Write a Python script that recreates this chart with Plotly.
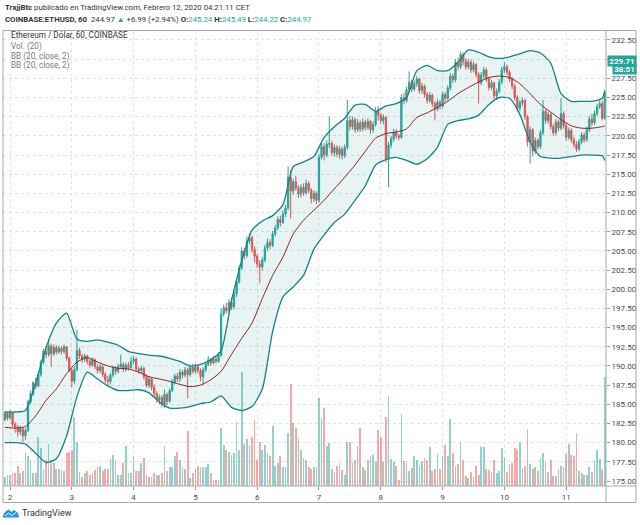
import pandas as pd
import plotly.graph_objects as go

# ---------------- DATA (hourly ETH/USD candles, Coinbase) ----------------
start_time = "2020-02-01 22:00"

opens = [
    183.0,183.8,183.2,183.9,182.4,182.0,181.4,181.8,
    180.9,181.6,185.3,186.4,187.8,187.4,188.9,190.5,191.9,191.5,192.6,191.6,192.4,191.8,192.3,191.9,192.5,191.0,189.4,188.0,189.5,192.0,191.3,190.9,
    191.3,190.6,190.1,190.8,189.9,189.4,189.9,188.9,188.2,188.0,188.8,189.7,189.3,189.9,190.2,189.6,190.1,189.8,190.6,190.9,189.6,189.4,189.7,188.6,
    187.5,188.3,187.2,186.4,185.6,185.9,185.0,186.3,185.4,186.8,187.9,188.7,188.3,189.2,188.8,189.5,188.9,189.8,189.3,189.9,189.4,188.6,189.5,190.2,
    190.8,190.4,190.9,190.6,191.4,196.8,197.6,197.2,198.3,197.7,199.4,201.0,202.8,205.0,204.4,206.3,206.7,205.2,204.3,203.3,202.9,203.8,205.4,206.1,
    205.7,207.2,208.0,209.1,208.7,209.8,210.6,214.6,212.8,214.0,213.2,212.4,213.3,212.6,213.8,212.9,211.8,212.5,211.6,217.2,218.6,217.5,218.9,219.0,
    217.8,218.5,217.6,218.3,217.4,218.5,222.0,221.2,222.1,220.8,221.7,220.9,221.8,221.1,221.9,220.8,221.5,223.2,
    222.7,222.0,222.4,217.0,218.8,219.6,220.5,220.0,219.8,225.0,224.6,226.0,227.0,226.1,226.8,227.4,225.9,226.5,225.4,224.6,225.3,224.2,223.5,224.4,
    223.9,225.4,224.9,226.2,227.8,227.3,229.6,229.0,230.6,229.7,229.0,229.6,228.6,229.3,228.0,226.9,227.9,228.6,227.4,226.3,226.9,225.2,225.8,227.0,
    228.6,229.0,228.3,227.4,226.5,225.0,223.6,224.3,224.6,222.5,219.2,220.8,218.0,219.4,218.6,220.4,223.2,222.0,222.8,221.2,220.4,221.8,221.0,222.9,
    221.3,219.8,220.7,219.5,218.9,218.3,219.2,220.1,219.5,220.8,222.2,221.7,222.9,223.8,224.2,222.3,
]
highs = [
    184.1,184.0,184.3,184.0,182.7,182.3,182.2,182.0,
    181.9,185.6,186.8,188.0,188.5,189.3,190.8,192.2,192.6,193.5,192.9,192.8,192.7,192.6,192.6,192.8,192.6,191.2,189.8,190.0,194.7,192.4,191.6,191.6,
    191.5,190.9,191.1,191.0,190.2,190.3,190.1,189.2,188.7,189.1,190.0,190.0,190.3,191.5,190.5,190.4,190.5,191.2,191.3,191.1,189.9,190.0,189.9,188.9,
    188.6,188.5,187.6,186.7,186.3,186.2,186.9,186.5,187.1,188.3,189.0,189.1,189.6,189.5,189.9,189.8,190.2,190.3,190.3,190.2,189.7,189.8,190.6,191.3,
    191.1,191.3,191.2,191.8,197.5,198.0,198.2,198.7,198.9,199.8,201.4,203.2,205.5,205.4,206.9,207.3,207.0,205.6,204.6,203.8,204.2,205.8,206.6,206.5,
    207.6,208.4,209.5,209.6,210.3,211.0,216.0,215.5,214.4,214.8,213.6,213.7,213.8,214.3,214.1,213.2,212.9,212.8,217.6,219.2,219.1,219.4,222.5,219.3,
    218.9,218.8,218.7,218.6,218.9,224.7,222.6,222.5,222.4,222.2,222.0,222.3,222.1,222.3,222.1,221.9,223.8,223.9,
    223.0,222.8,222.6,219.2,220.0,220.9,220.9,220.3,225.4,225.6,226.4,228.4,227.3,227.2,227.8,227.6,226.9,226.7,225.7,225.7,225.5,224.5,224.8,224.7,
    225.8,225.7,226.6,228.2,228.1,230.0,230.2,231.0,230.9,230.1,230.0,229.9,229.7,229.5,228.3,228.3,229.0,228.9,227.7,227.3,227.1,226.2,227.4,229.0,
    229.6,229.3,228.6,227.7,226.8,225.3,224.7,225.0,224.8,222.7,221.2,221.0,219.8,219.7,220.8,224.7,223.5,223.2,223.0,221.5,222.2,222.1,224.9,223.2,
    221.6,221.1,221.0,219.9,219.3,219.6,220.5,220.4,221.2,222.6,222.9,223.3,224.2,224.6,224.5,226.0,
]
lows = [
    182.8,182.9,183.0,182.0,181.3,180.8,181.0,180.1,
    180.4,181.4,185.0,186.1,187.0,187.2,188.6,190.2,191.0,191.2,189.9,191.3,191.5,191.6,191.5,191.6,190.7,189.2,187.2,187.6,189.3,190.9,190.4,190.5,
    190.2,189.8,189.9,189.6,189.0,189.1,188.5,187.8,187.3,187.6,188.5,188.9,189.0,189.6,189.2,189.3,189.4,189.5,190.2,189.3,189.0,189.0,188.2,187.2,
    187.1,186.8,186.0,185.2,185.0,184.6,184.5,184.9,185.2,186.6,187.6,187.9,187.9,188.4,188.5,185.8,188.6,189.0,189.0,189.0,188.0,187.5,189.2,190.0,
    190.0,190.2,190.3,190.4,191.2,196.4,196.8,196.9,197.3,197.4,199.0,200.7,202.5,203.9,204.1,205.9,204.8,203.5,202.8,200.8,202.5,203.5,205.0,205.2,
    205.5,206.9,207.7,208.2,208.5,209.4,210.3,209.2,212.3,212.9,211.9,212.0,212.2,212.3,212.5,211.2,211.4,211.1,211.3,216.9,216.8,217.2,218.4,217.4,
    217.3,217.2,217.0,216.9,217.1,218.2,220.7,220.8,220.4,220.5,220.5,220.6,220.7,220.8,220.3,220.4,221.2,222.0,
    221.6,221.5,216.5,213.3,218.4,219.2,219.6,219.4,219.6,224.1,224.3,225.7,225.7,225.8,226.4,225.5,225.5,225.0,224.2,224.3,223.8,222.0,223.2,223.4,
    223.6,224.4,224.6,225.9,226.9,227.0,228.6,228.7,229.2,228.6,228.7,228.2,228.3,227.6,224.2,226.6,227.5,227.0,225.9,226.0,224.8,224.7,225.5,226.7,
    228.2,227.9,227.0,226.1,224.6,223.2,223.2,223.9,222.1,218.6,216.4,217.3,217.6,218.2,218.3,220.1,221.6,221.6,220.8,220.0,220.1,220.6,220.7,220.9,
    219.4,219.5,219.1,218.5,217.9,218.0,218.9,219.1,219.2,220.5,221.3,221.4,222.6,223.5,222.0,222.1,
]
closes = [
    183.8,183.2,183.9,182.4,182.0,181.4,181.8,180.9,
    181.6,185.3,186.4,187.8,187.4,188.9,190.5,191.9,191.5,192.6,191.6,192.4,191.8,192.3,191.9,192.5,191.0,189.4,188.0,189.5,192.0,191.3,190.9,191.3,
    190.6,190.1,190.8,189.9,189.4,189.9,188.9,188.2,188.0,188.8,189.7,189.3,189.9,190.2,189.6,190.1,189.8,190.6,190.9,189.6,189.4,189.7,188.6,187.5,
    188.3,187.2,186.4,185.6,185.9,185.0,186.3,185.4,186.8,187.9,188.7,188.3,189.2,188.8,189.5,188.9,189.8,189.3,189.9,189.4,188.6,189.5,190.2,190.8,
    190.4,190.9,190.6,191.4,196.8,197.6,197.2,198.3,197.7,199.4,201.0,202.8,205.0,204.4,206.3,206.7,205.2,204.3,203.3,202.9,203.8,205.4,206.1,205.7,
    207.2,208.0,209.1,208.7,209.8,210.6,214.6,212.8,214.0,213.2,212.4,213.3,212.6,213.8,212.9,211.8,212.5,211.6,217.2,218.6,217.5,218.9,219.0,217.8,
    218.5,217.6,218.3,217.4,218.5,222.0,221.2,222.1,220.8,221.7,220.9,221.8,221.1,221.9,220.8,221.5,223.2,222.7,
    222.0,222.4,217.0,218.8,219.6,220.5,220.0,219.8,225.0,224.6,226.0,227.0,226.1,226.8,227.4,225.9,226.5,225.4,224.6,225.3,224.2,223.5,224.4,223.9,
    225.4,224.9,226.2,227.8,227.3,229.6,229.0,230.6,229.7,229.0,229.6,228.6,229.3,228.0,226.9,227.9,228.6,227.4,226.3,226.9,225.2,225.8,227.0,228.6,
    229.0,228.3,227.4,226.5,225.0,223.6,224.3,224.6,222.5,219.2,220.8,218.0,219.4,218.6,220.4,223.2,222.0,222.8,221.2,220.4,221.8,221.0,222.9,221.3,
    219.8,220.7,219.5,218.9,218.3,219.2,220.1,219.5,220.8,222.2,221.7,222.9,223.8,224.2,222.3,225.6,
]
volumes = [
    0.8,1.0,1.0,1.1,1.1,1.8,1.1,1.3,
    2.9,2.6,2.3,1.1,1.1,4.3,3.3,1.4,2.3,3.7,2.3,2.0,1.5,1.5,1.4,1.3,2.9,3.0,3.2,6.1,3.9,1.2,0.8,1.1,
    1.3,1.0,1.1,1.4,1.7,1.8,1.3,1.5,1.5,2.4,2.7,2.3,1.0,1.0,2.0,3.5,1.1,1.1,2.6,1.3,1.3,2.0,2.5,1.0,
    0.8,0.8,1.1,1.0,1.0,1.1,3.5,1.3,1.7,1.7,2.6,3.0,2.3,1.7,1.5,4.8,0.7,1.1,1.5,1.8,1.7,1.7,1.7,1.9,
    1.1,0.5,0.5,0.5,5.1,3.6,3.2,3.0,2.7,2.9,5.6,3.2,10.0,3.7,4.1,3.5,4.3,5.8,2.3,3.9,3.2,3.6,2.9,2.6,
    5.3,1.8,2.0,2.6,1.7,1.7,4.7,9.0,5.5,5.1,4.1,3.2,2.5,2.3,1.7,1.5,1.7,1.7,7.7,6.0,6.9,3.5,3.8,1.5,
    1.2,1.8,2.0,1.4,1.0,3.9,3.9,2.0,2.3,3.5,5.1,1.7,1.4,2.3,2.6,2.7,2.1,4.9,
    4.3,2.1,6.1,7.9,2.4,2.1,1.8,0.5,6.3,2.2,2.0,1.3,1.6,2.6,2.3,1.8,2.2,2.5,2.3,3.4,1.3,1.5,2.9,1.5,
    2.6,3.6,2.6,5.9,2.9,1.8,1.9,3.9,2.3,0.9,0.7,1.2,0.8,1.8,1.0,3.4,3.4,1.5,1.4,1.2,2.3,1.1,1.3,3.3,
    2.5,1.2,1.9,2.0,3.3,3.2,3.9,1.6,1.8,5.0,1.9,1.5,1.7,1.3,2.5,2.9,2.1,1.2,2.3,0.9,0.9,1.5,1.8,1.7,
    2.8,3.7,2.7,2.6,4.7,1.3,1.1,1.0,1.0,1.7,1.2,2.3,3.2,2.4,1.5,9.6,
]

# Bollinger Bands (20, close, 2) every 4 hours (+ last bar)
bb_upper = [
    184.0,184.0,184.2,187.8,192.4,195.6,196.9,193.5,193.2,193.4,193.1,192.7,191.9,191.6,191.4,
    191.3,191.0,190.6,190.0,190.2,190.8,192.0,198.5,203.7,207.7,208.9,209.6,211.0,216.0,216.6,
    217.3,219.8,221.2,222.3,224.0,224.1,223.2,223.9,224.2,225.0,228.5,229.2,228.5,228.5,229.6,
    231.2,230.9,230.3,230.1,230.3,230.7,231.1,230.8,229.5,225.5,224.5,224.5,224.5,224.9,225.9,
]
bb_basis = [
    182.0,181.9,182.1,183.5,185.5,187.0,189.0,190.5,191.1,190.5,190.0,189.7,189.6,189.2,188.6,
    188.3,188.0,187.6,187.3,187.5,188.2,189.3,191.5,193.6,195.6,198.8,201.8,204.2,207.2,209.0,
    210.3,211.6,213.1,214.6,216.2,218.0,219.7,220.3,220.5,220.9,222.4,223.0,223.7,224.5,225.5,
    226.3,227.0,227.6,227.8,227.6,226.8,225.5,224.1,223.1,222.1,221.3,221.0,221.0,221.2,221.3,
]
bb_lower = [
    180.0,180.0,179.8,178.6,177.4,177.9,180.9,186.0,189.2,188.3,187.4,186.8,186.8,186.9,186.5,
    185.3,184.5,184.5,184.7,185.1,185.3,186.1,184.6,184.2,184.7,187.0,194.5,199.0,200.3,201.8,
    205.2,207.1,208.7,209.8,211.6,213.5,216.2,216.9,217.2,216.8,216.3,217.0,218.5,221.5,222.0,
    222.2,222.7,224.1,225.0,224.9,222.8,219.2,217.3,217.1,217.1,217.3,217.5,217.5,217.4,216.8,
]

# price axis ticks; the 230.00 label sits under the last-price tag in the reference
price_ticks = [175.0, 177.5, 180.0, 182.5, 185.0, 187.5, 190.0, 192.5, 195.0, 197.5, 200.0,
               202.5, 205.0, 207.5, 210.0, 212.5, 215.0, 217.5, 220.0, 222.5, 225.0, 227.5,
               230.0, 232.5]
price_tick_labels = ["175.00", "177.50", "180.00", "182.50", "185.00", "187.50", "190.00",
                     "192.50", "195.00", "197.50", "200.00", "202.50", "205.00", "207.50",
                     "210.00", "212.50", "215.00", "217.50", "220.00", "222.50", "225.00",
                     "227.50", "", "232.50"]

last_price_label = "229.71"
last_price_value = 229.71
countdown_label = "38:51"

# ---------------- STYLE ----------------
UP = "#26a69a"
DOWN = "#ef5350"
UP_VOL = "rgba(38,166,154,0.5)"
DOWN_VOL = "rgba(239,83,80,0.5)"
FONT = "Roboto, Liberation Sans, sans-serif"

times = pd.date_range(start_time, periods=len(closes), freq="h")
bb_times = list(pd.date_range(start_time, "2020-02-11 14:00", freq="4h")) + [times[-1]]

vol_colors = [UP_VOL if c >= o else DOWN_VOL for o, c in zip(opens, closes)]

# pixel -> paper helpers for layout decorations (plot area: x 3..606, y 31..486)
def X(px):
    return (px - 3) / 603.0

def Y(py):
    return (486 - py) / 455.0

fig = go.Figure()

fig.add_trace(go.Bar(
    x=times, y=volumes, marker=dict(color=vol_colors, line=dict(width=0)),
    width=0.68 * 3600 * 1000, yaxis="y", hoverinfo="skip",
))
fig.add_trace(go.Scatter(
    x=bb_times, y=bb_lower, mode="lines", yaxis="y2",
    line=dict(color="#138484", width=1.3, shape="spline", smoothing=0.6),
))
fig.add_trace(go.Scatter(
    x=bb_times, y=bb_upper, mode="lines", yaxis="y2", fill="tonexty",
    fillcolor="rgba(25,135,135,0.10)",
    line=dict(color="#138484", width=1.3, shape="spline", smoothing=0.6),
))
fig.add_trace(go.Scatter(
    x=bb_times, y=bb_basis, mode="lines", yaxis="y2",
    line=dict(color="#872323", width=1, shape="spline", smoothing=0.6),
))
fig.add_trace(go.Candlestick(
    x=times, open=opens, high=highs, low=lows, close=closes, yaxis="y2",
    increasing=dict(line=dict(color=UP, width=1), fillcolor=UP),
    decreasing=dict(line=dict(color=DOWN, width=1), fillcolor=DOWN),
    whiskerwidth=0,
))

grid = "#e3e3e3"
fig.update_layout(
    width=640, height=525,
    margin=dict(l=3, r=34, t=31, b=39),
    paper_bgcolor="white", plot_bgcolor="white",
    showlegend=False,
    font=dict(family=FONT, size=8, color="#4a4a4a"),
    xaxis=dict(
        type="date",
        range=["2020-02-01 21:17", "2020-02-11 15:28"],
        tick0="2020-02-02", dtick=86400000, tickformat="%-d",
        showgrid=True, gridcolor=grid, griddash="dot", gridwidth=1,
        ticks="outside", ticklen=3, tickcolor="#999",
        tickfont=dict(size=8, color="#4a4a4a"),
        rangeslider=dict(visible=False),
        showline=False, zeroline=False,
    ),
    yaxis=dict(range=[0, 40], visible=False, showgrid=False, fixedrange=True),
    yaxis2=dict(
        overlaying="y", side="right", anchor="x",
        range=[174.35, 233.67], tickmode="array",
        tickvals=price_ticks, ticktext=price_tick_labels,
        showgrid=True, gridcolor=grid, griddash="dot", gridwidth=1,
        ticks="outside", ticklen=3, tickcolor="#999",
        tickfont=dict(size=8, color="#4a4a4a"),
        showline=False, zeroline=False,
    ),
    bargap=0,
)

border = "#a8a8a8"
fig.add_shape(type="rect", xref="paper", yref="paper",
              x0=0, x1=X(636), y0=Y(502.5), y1=Y(30.5),
              line=dict(color=border, width=1), fillcolor="rgba(0,0,0,0)", layer="above")
fig.add_shape(type="line", xref="paper", yref="paper",
              x0=1, x1=1, y0=Y(502.5), y1=Y(30.5), line=dict(color=border, width=1))
fig.add_shape(type="line", xref="paper", yref="paper",
              x0=0, x1=X(636), y0=0, y1=0, line=dict(color=border, width=1))

# TradingView logo (simple cloud with zigzag)
logo = ("M {a},{b} L {c},{d} L {e},{f} L {g},{h} L {i},{j} L {k},{l} L {m},{n} Z").format(
    a=X(3), b=Y(517), c=X(5), d=Y(512.5), e=X(8.5), f=Y(510), g=X(11.5), h=Y(512.5),
    i=X(14), j=Y(510.5), k=X(17.5), l=Y(513), m=X(18.5), n=Y(517))
fig.add_shape(type="path", xref="paper", yref="paper", path=logo,
              fillcolor="#2196f3", line=dict(color="#2196f3", width=1))
zig = "M {a},{b} L {c},{d} L {e},{f} L {g},{h}".format(
    a=X(5), b=Y(516), c=X(8.5), d=Y(513), e=X(11.5), f=Y(515.5), g=X(16), h=Y(512.5))
fig.add_shape(type="path", xref="paper", yref="paper", path=zig,
              line=dict(color="white", width=1))

teal = UP
header2 = ("<b>COINBASE:ETHUSD, 60</b>  244.97 <span style='color:%s'>▲</span> +6.99 (+2.94%%) "
           "<b>O:</b><span style='color:%s'>245.24</span> <b>H:</b><span style='color:%s'>245.49</span> "
           "<b>L:</b><span style='color:%s'>244.22</span> <b>C:</b><span style='color:%s'>244.97</span>"
           % (teal, teal, teal, teal, teal))

anns = [
    dict(x=X(3), y=Y(7.5), text="<b>TrxjjBtc</b> publicado en TradingView.com, Febrero 12, 2020 04:21:11 CET",
         font=dict(size=7.8, color="#333333")),
    dict(x=X(3), y=Y(19), text=header2, font=dict(size=7.8, color="#333333")),
    dict(x=X(9), y=Y(35.5), text="Ethereum / Dólar, 60, COINBASE", font=dict(size=8.2, color="#333333")),
    dict(x=X(9), y=Y(46), text="Vol. (20)", font=dict(size=8.2, color="#7a7a7a")),
    dict(x=X(9), y=Y(56), text="BB (20, close, 2)", font=dict(size=8.2, color="#7a7a7a")),
    dict(x=X(9), y=Y(66), text="BB (20, close, 2)", font=dict(size=8.2, color="#7a7a7a")),
    dict(x=X(20), y=Y(513), text="TradingView", font=dict(size=9, color="#333333")),
]
for a in anns:
    fig.add_annotation(xref="paper", yref="paper", xanchor="left", yanchor="middle",
                       showarrow=False, align="left", **a)

fig.add_annotation(xref="paper", yref="y2", x=X(607), y=last_price_value, text="<b>%s</b>" % last_price_label,
                   xanchor="left", yanchor="middle", showarrow=False,
                   bgcolor=UP, font=dict(size=8, color="white", family=FONT), width=28, height=10,
                   borderpad=0)
fig.add_annotation(xref="paper", yref="y2", x=X(612), y=228.68, text="<b>%s</b>" % countdown_label,
                   xanchor="left", yanchor="middle", showarrow=False,
                   bgcolor=UP, font=dict(size=8, color="white", family=FONT), width=23, height=9,
                   borderpad=0)

fig.write_html("out.html", config={"displayModeBar": False},
               post_script="document.body.style.margin='0px';document.body.style.overflow='hidden';")
